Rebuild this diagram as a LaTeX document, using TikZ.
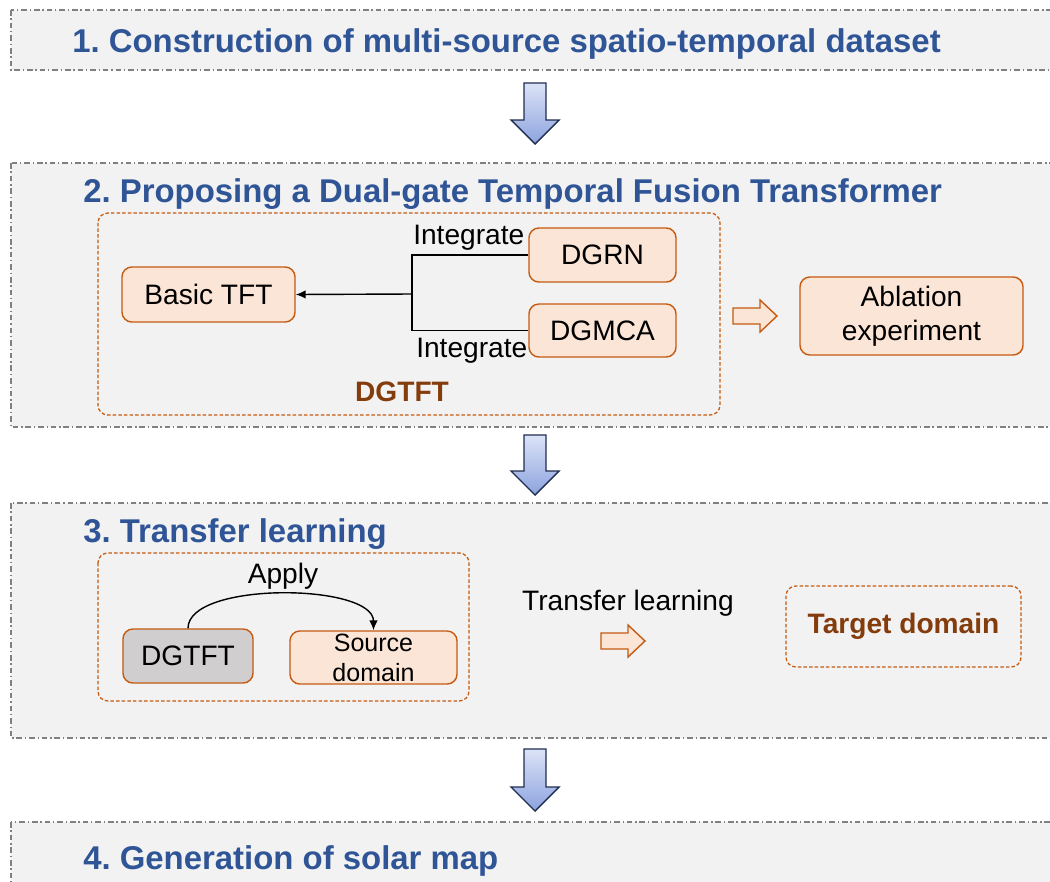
\documentclass[tikz,border=0pt]{standalone}
\usepackage{fontspec}
\setmainfont{Liberation Sans}
\usetikzlibrary{arrows.meta}
\frenchspacing

\definecolor{headblue}{HTML}{2F5597}
\definecolor{panelgray}{HTML}{F2F2F2}
\definecolor{edgeorange}{HTML}{C55A11}
\definecolor{boxfill}{HTML}{FBE5D6}
\definecolor{darkbrown}{HTML}{843C0C}
\definecolor{boxgray}{HTML}{D0CECE}
\definecolor{arrowtop}{HTML}{DCE3F7}
\definecolor{arrowbot}{HTML}{8CA3DE}
\definecolor{arrowedge}{HTML}{1F2D4F}

% one pixel of the 1050 x 881 frame
\newcommand{\pxu}{0.7113pt}

% block arrow between the stages: x, top, head base, tip
\newcommand{\stagearrow}[4]{%
  \draw[blkarrow] (#1-11,#2) -- (#1+11,#2) -- (#1+11,#3) -- (#1+24,#3)
    -- (#1,#4) -- (#1-24,#3) -- (#1-11,#3) -- cycle;}
% hollow orange arrow: left x, middle y
\newcommand{\hollowarrow}[2]{%
  \draw[holarrow] (#1,#2-8) -- (#1+27,#2-8) -- (#1+27,#2-16) -- (#1+44,#2)
    -- (#1+27,#2+16) -- (#1+27,#2+8) -- (#1,#2+8) -- cycle;}

\begin{document}
\begin{tikzpicture}[x=0.025cm, y=-0.025cm,
    font=\fontsize{20}{24}\selectfont,
    panel/.style={fill=panelgray, draw=gray, line width=1pt,
      dash pattern=on 4pt off 2pt on 1pt off 2pt},
    heading/.style={anchor=base west, inner sep=0pt, text=headblue,
      font=\fontsize{23.4}{28}\selectfont\bfseries},
    box/.style={draw=edgeorange, fill=boxfill, line width=1pt,
      rounded corners=7pt, inner sep=0pt, align=center},
    dbox/.style={draw=edgeorange, line width=0.9pt, dashed,
      dash pattern=on 2.5pt off 1.5pt, rounded corners=7pt},
    lbl/.style={anchor=base, inner sep=0pt},
    line/.style={draw=black, line width=1pt},
    blkarrow/.style={draw=arrowedge, line width=1pt, top color=arrowtop,
      bottom color=arrowbot},
    holarrow/.style={draw=edgeorange, fill=boxfill, line width=1pt}]
\useasboundingbox (0,0) rectangle (1050,881);
\clip (0,0) rectangle (1050,881);

% stage panels
\draw[panel] (11,10) rectangle (1060,70);
\draw[panel] (11,163) rectangle (1060,427);
\draw[panel] (11,503) rectangle (1060,738);
\draw[panel] (11,822) rectangle (1060,900);

\node[heading] (head1) at (72,52) {1. Construction of multi-source spatio-temporal dataset};
\node[heading] (head2) at (83,202) {2. Proposing a Dual-gate Temporal Fusion Transformer};
\node[heading] (head3) at (83,542) {3. Transfer learning};
\node[heading] (head4) at (83,869) {4. Generation of solar map};

\stagearrow{535}{83}{120}{144}
\stagearrow{535}{435}{471}{495}
\stagearrow{535}{749}{787}{811}

% stage 2
\draw[dbox] (98,213) rectangle (720,415);
\node[lbl, text=darkbrown, font=\fontsize{20}{24}\selectfont\bfseries] (dgtftlbl) at (402,401) {DGTFT};
\node[box, minimum width=173*\pxu, minimum height=55*\pxu] (tft) at (208.5,294.5) {Basic TFT};
\node[box, minimum width=147*\pxu, minimum height=54*\pxu] (dgrn) at (602.5,255) {DGRN};
\node[box, minimum width=147*\pxu, minimum height=53*\pxu] (dgmca) at (602.5,330.5) {DGMCA};
\coordinate (jn) at (412,294);
\draw[line] (dgrn.west) -| (jn);
\draw[line] (dgmca.west) -| (jn);
\draw[line, -{Latex[length=7pt,width=6pt]}] (jn) -- (tft.east);
\node[anchor=base west, inner sep=0pt] (int1) at (413,244) {Integrate};
\node[anchor=base west, inner sep=0pt] (int2) at (416,357) {Integrate};
\hollowarrow{733}{316}
\node[box, minimum width=223*\pxu, minimum height=78*\pxu] (ablation) at (911.5,316) {Ablation\\experiment};

% stage 3
\draw[dbox] (98,553) rectangle (469,701);
\node[box, fill=boxgray, minimum width=130*\pxu, minimum height=54*\pxu] (dgtft) at (188,656) {DGTFT};
\node[box, minimum width=167*\pxu, minimum height=53*\pxu,
  font=\fontsize{17.8}{21.3}\selectfont] (source) at (373.5,657.5) {Source\\domain};
\draw[line, -{Latex[length=7pt,width=6pt]}] (dgtft.north) to[out=90, in=90, looseness=0.65] (source.north);
\node[lbl] (apply) at (283,583) {Apply};
\node[lbl] (transfer) at (628,610) {Transfer learning};
\hollowarrow{601}{641}
\node[dbox, minimum width=235*\pxu, minimum height=81*\pxu, text=darkbrown,
  font=\fontsize{20}{24}\selectfont\bfseries] (target) at (903.5,626.5) {Target domain};
\end{tikzpicture}
\end{document}
